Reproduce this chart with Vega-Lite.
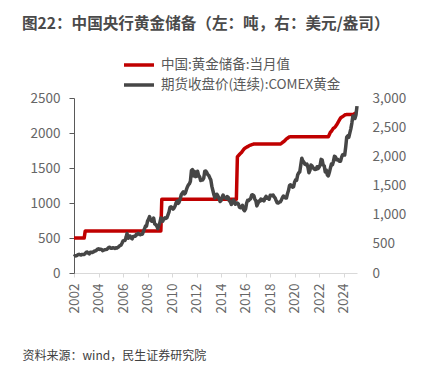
{
  "$schema": "https://vega.github.io/schema/vega-lite/v6.json",
  "width": 283,
  "height": 175,
  "autosize": {"type": "none"},
  "padding": {"left": 74, "top": 98, "right": 72, "bottom": 97},
  "background": "white",
  "config": {"view": {"stroke": null}, "font": "Noto Sans CJK SC"},
  "title": {"text": "图22：中国央行黄金储备（左：吨，右：美元/盎司）", "anchor": "start", "frame": "group", "fontSize": 15.6, "fontWeight": "bold", "color": "#4a4a4a", "dx": -52, "offset": 24},
  "datasets": {
    "reserve": [
      {"date": "2002-01-01", "tons": 500}, {"date": "2002-11-01", "tons": 500}, {"date": "2002-12-01", "tons": 600},
      {"date": "2009-02-01", "tons": 600}, {"date": "2009-03-01", "tons": 1054}, {"date": "2015-04-01", "tons": 1054},
      {"date": "2015-05-01", "tons": 1658}, {"date": "2015-06-01", "tons": 1677}, {"date": "2015-07-01", "tons": 1693},
      {"date": "2015-08-01", "tons": 1709}, {"date": "2015-09-01", "tons": 1722}, {"date": "2015-10-01", "tons": 1743},
      {"date": "2015-11-01", "tons": 1762}, {"date": "2015-12-01", "tons": 1779}, {"date": "2016-01-01", "tons": 1788},
      {"date": "2016-02-01", "tons": 1798}, {"date": "2016-03-01", "tons": 1805}, {"date": "2016-04-01", "tons": 1814},
      {"date": "2016-05-01", "tons": 1823}, {"date": "2016-06-01", "tons": 1828}, {"date": "2016-07-01", "tons": 1833},
      {"date": "2016-08-01", "tons": 1838}, {"date": "2016-09-01", "tons": 1842}, {"date": "2018-11-01", "tons": 1842},
      {"date": "2018-12-01", "tons": 1852}, {"date": "2019-01-01", "tons": 1864}, {"date": "2019-02-01", "tons": 1874},
      {"date": "2019-03-01", "tons": 1885}, {"date": "2019-04-01", "tons": 1900}, {"date": "2019-05-01", "tons": 1916},
      {"date": "2019-06-01", "tons": 1926}, {"date": "2019-07-01", "tons": 1936}, {"date": "2019-08-01", "tons": 1945},
      {"date": "2019-09-01", "tons": 1948}, {"date": "2022-10-01", "tons": 1948}, {"date": "2022-11-01", "tons": 1980},
      {"date": "2022-12-01", "tons": 2010}, {"date": "2023-01-01", "tons": 2025}, {"date": "2023-02-01", "tons": 2048},
      {"date": "2023-03-01", "tons": 2068}, {"date": "2023-04-01", "tons": 2076}, {"date": "2023-05-01", "tons": 2092},
      {"date": "2023-06-01", "tons": 2113}, {"date": "2023-07-01", "tons": 2137}, {"date": "2023-08-01", "tons": 2165},
      {"date": "2023-09-01", "tons": 2192}, {"date": "2023-10-01", "tons": 2215}, {"date": "2023-11-01", "tons": 2226},
      {"date": "2023-12-01", "tons": 2235}, {"date": "2024-01-01", "tons": 2245}, {"date": "2024-02-01", "tons": 2257},
      {"date": "2024-03-01", "tons": 2262}, {"date": "2024-04-01", "tons": 2264}, {"date": "2024-10-01", "tons": 2264},
      {"date": "2024-11-01", "tons": 2269}, {"date": "2024-12-01", "tons": 2280}, {"date": "2025-01-01", "tons": 2285},
      {"date": "2025-02-01", "tons": 2290}
    ],
    "gold": [
      {"date": "2002-01-01", "price": 282}, {"date": "2002-02-01", "price": 296}, {"date": "2002-03-01", "price": 294}, {"date": "2002-04-01", "price": 303}, {"date": "2002-05-01", "price": 314}, {"date": "2002-06-01", "price": 321}, {"date": "2002-07-01", "price": 313}, {"date": "2002-08-01", "price": 310}, {"date": "2002-09-01", "price": 319}, {"date": "2002-10-01", "price": 317}, {"date": "2002-11-01", "price": 319}, {"date": "2002-12-01", "price": 333},
      {"date": "2003-01-01", "price": 357}, {"date": "2003-02-01", "price": 359}, {"date": "2003-03-01", "price": 341}, {"date": "2003-04-01", "price": 328}, {"date": "2003-05-01", "price": 356}, {"date": "2003-06-01", "price": 356}, {"date": "2003-07-01", "price": 351}, {"date": "2003-08-01", "price": 360}, {"date": "2003-09-01", "price": 379}, {"date": "2003-10-01", "price": 379}, {"date": "2003-11-01", "price": 390}, {"date": "2003-12-01", "price": 408},
      {"date": "2004-01-01", "price": 414}, {"date": "2004-02-01", "price": 405}, {"date": "2004-03-01", "price": 407}, {"date": "2004-04-01", "price": 403}, {"date": "2004-05-01", "price": 384}, {"date": "2004-06-01", "price": 392}, {"date": "2004-07-01", "price": 398}, {"date": "2004-08-01", "price": 401}, {"date": "2004-09-01", "price": 405}, {"date": "2004-10-01", "price": 421}, {"date": "2004-11-01", "price": 439}, {"date": "2004-12-01", "price": 442},
      {"date": "2005-01-01", "price": 424}, {"date": "2005-02-01", "price": 423}, {"date": "2005-03-01", "price": 434}, {"date": "2005-04-01", "price": 429}, {"date": "2005-05-01", "price": 422}, {"date": "2005-06-01", "price": 431}, {"date": "2005-07-01", "price": 425}, {"date": "2005-08-01", "price": 438}, {"date": "2005-09-01", "price": 456}, {"date": "2005-10-01", "price": 470}, {"date": "2005-11-01", "price": 477}, {"date": "2005-12-01", "price": 510},
      {"date": "2006-01-01", "price": 550}, {"date": "2006-02-01", "price": 555}, {"date": "2006-03-01", "price": 557}, {"date": "2006-04-01", "price": 611}, {"date": "2006-05-01", "price": 677}, {"date": "2006-06-01", "price": 596}, {"date": "2006-07-01", "price": 634}, {"date": "2006-08-01", "price": 633}, {"date": "2006-09-01", "price": 598}, {"date": "2006-10-01", "price": 586}, {"date": "2006-11-01", "price": 628}, {"date": "2006-12-01", "price": 630},
      {"date": "2007-01-01", "price": 631}, {"date": "2007-02-01", "price": 665}, {"date": "2007-03-01", "price": 655}, {"date": "2007-04-01", "price": 679}, {"date": "2007-05-01", "price": 667}, {"date": "2007-06-01", "price": 656}, {"date": "2007-07-01", "price": 665}, {"date": "2007-08-01", "price": 665}, {"date": "2007-09-01", "price": 713}, {"date": "2007-10-01", "price": 755}, {"date": "2007-11-01", "price": 806}, {"date": "2007-12-01", "price": 803},
      {"date": "2008-01-01", "price": 890}, {"date": "2008-02-01", "price": 922}, {"date": "2008-03-01", "price": 968}, {"date": "2008-04-01", "price": 910}, {"date": "2008-05-01", "price": 889}, {"date": "2008-06-01", "price": 890}, {"date": "2008-07-01", "price": 940}, {"date": "2008-08-01", "price": 839}, {"date": "2008-09-01", "price": 830}, {"date": "2008-10-01", "price": 807}, {"date": "2008-11-01", "price": 761}, {"date": "2008-12-01", "price": 816},
      {"date": "2009-01-01", "price": 859}, {"date": "2009-02-01", "price": 943}, {"date": "2009-03-01", "price": 924}, {"date": "2009-04-01", "price": 890}, {"date": "2009-05-01", "price": 929}, {"date": "2009-06-01", "price": 946}, {"date": "2009-07-01", "price": 934}, {"date": "2009-08-01", "price": 949}, {"date": "2009-09-01", "price": 997}, {"date": "2009-10-01", "price": 1043}, {"date": "2009-11-01", "price": 1127}, {"date": "2009-12-01", "price": 1135},
      {"date": "2010-01-01", "price": 1118}, {"date": "2010-02-01", "price": 1095}, {"date": "2010-03-01", "price": 1113}, {"date": "2010-04-01", "price": 1149}, {"date": "2010-05-01", "price": 1205}, {"date": "2010-06-01", "price": 1233}, {"date": "2010-07-01", "price": 1193}, {"date": "2010-08-01", "price": 1216}, {"date": "2010-09-01", "price": 1271}, {"date": "2010-10-01", "price": 1342}, {"date": "2010-11-01", "price": 1370}, {"date": "2010-12-01", "price": 1391},
      {"date": "2011-01-01", "price": 1356}, {"date": "2011-02-01", "price": 1373}, {"date": "2011-03-01", "price": 1424}, {"date": "2011-04-01", "price": 1474}, {"date": "2011-05-01", "price": 1510}, {"date": "2011-06-01", "price": 1529}, {"date": "2011-07-01", "price": 1573}, {"date": "2011-08-01", "price": 1756}, {"date": "2011-09-01", "price": 1772}, {"date": "2011-10-01", "price": 1665}, {"date": "2011-11-01", "price": 1739}, {"date": "2011-12-01", "price": 1652},
      {"date": "2012-01-01", "price": 1656}, {"date": "2012-02-01", "price": 1743}, {"date": "2012-03-01", "price": 1674}, {"date": "2012-04-01", "price": 1650}, {"date": "2012-05-01", "price": 1586}, {"date": "2012-06-01", "price": 1597}, {"date": "2012-07-01", "price": 1594}, {"date": "2012-08-01", "price": 1626}, {"date": "2012-09-01", "price": 1745}, {"date": "2012-10-01", "price": 1747}, {"date": "2012-11-01", "price": 1722}, {"date": "2012-12-01", "price": 1685},
      {"date": "2013-01-01", "price": 1670}, {"date": "2013-02-01", "price": 1628}, {"date": "2013-03-01", "price": 1593}, {"date": "2013-04-01", "price": 1485}, {"date": "2013-05-01", "price": 1414}, {"date": "2013-06-01", "price": 1342}, {"date": "2013-07-01", "price": 1287}, {"date": "2013-08-01", "price": 1347}, {"date": "2013-09-01", "price": 1349}, {"date": "2013-10-01", "price": 1317}, {"date": "2013-11-01", "price": 1276}, {"date": "2013-12-01", "price": 1225},
      {"date": "2014-01-01", "price": 1244}, {"date": "2014-02-01", "price": 1300}, {"date": "2014-03-01", "price": 1336}, {"date": "2014-04-01", "price": 1299}, {"date": "2014-05-01", "price": 1288}, {"date": "2014-06-01", "price": 1279}, {"date": "2014-07-01", "price": 1311}, {"date": "2014-08-01", "price": 1296}, {"date": "2014-09-01", "price": 1239}, {"date": "2014-10-01", "price": 1223}, {"date": "2014-11-01", "price": 1176}, {"date": "2014-12-01", "price": 1201},
      {"date": "2015-01-01", "price": 1251}, {"date": "2015-02-01", "price": 1227}, {"date": "2015-03-01", "price": 1179}, {"date": "2015-04-01", "price": 1199}, {"date": "2015-05-01", "price": 1199}, {"date": "2015-06-01", "price": 1182}, {"date": "2015-07-01", "price": 1128}, {"date": "2015-08-01", "price": 1118}, {"date": "2015-09-01", "price": 1125}, {"date": "2015-10-01", "price": 1159}, {"date": "2015-11-01", "price": 1086}, {"date": "2015-12-01", "price": 1068},
      {"date": "2016-01-01", "price": 1098}, {"date": "2016-02-01", "price": 1200}, {"date": "2016-03-01", "price": 1245}, {"date": "2016-04-01", "price": 1242}, {"date": "2016-05-01", "price": 1261}, {"date": "2016-06-01", "price": 1276}, {"date": "2016-07-01", "price": 1337}, {"date": "2016-08-01", "price": 1340}, {"date": "2016-09-01", "price": 1327}, {"date": "2016-10-01", "price": 1267}, {"date": "2016-11-01", "price": 1238}, {"date": "2016-12-01", "price": 1151},
      {"date": "2017-01-01", "price": 1192}, {"date": "2017-02-01", "price": 1234}, {"date": "2017-03-01", "price": 1231}, {"date": "2017-04-01", "price": 1267}, {"date": "2017-05-01", "price": 1246}, {"date": "2017-06-01", "price": 1260}, {"date": "2017-07-01", "price": 1237}, {"date": "2017-08-01", "price": 1283}, {"date": "2017-09-01", "price": 1314}, {"date": "2017-10-01", "price": 1280}, {"date": "2017-11-01", "price": 1282}, {"date": "2017-12-01", "price": 1265},
      {"date": "2018-01-01", "price": 1331}, {"date": "2018-02-01", "price": 1331}, {"date": "2018-03-01", "price": 1325}, {"date": "2018-04-01", "price": 1335}, {"date": "2018-05-01", "price": 1304}, {"date": "2018-06-01", "price": 1282}, {"date": "2018-07-01", "price": 1238}, {"date": "2018-08-01", "price": 1202}, {"date": "2018-09-01", "price": 1198}, {"date": "2018-10-01", "price": 1215}, {"date": "2018-11-01", "price": 1221}, {"date": "2018-12-01", "price": 1250},
      {"date": "2019-01-01", "price": 1292}, {"date": "2019-02-01", "price": 1320}, {"date": "2019-03-01", "price": 1301}, {"date": "2019-04-01", "price": 1286}, {"date": "2019-05-01", "price": 1284}, {"date": "2019-06-01", "price": 1359}, {"date": "2019-07-01", "price": 1413}, {"date": "2019-08-01", "price": 1500}, {"date": "2019-09-01", "price": 1511}, {"date": "2019-10-01", "price": 1495}, {"date": "2019-11-01", "price": 1470}, {"date": "2019-12-01", "price": 1479},
      {"date": "2020-01-01", "price": 1561}, {"date": "2020-02-01", "price": 1597}, {"date": "2020-03-01", "price": 1592}, {"date": "2020-04-01", "price": 1683}, {"date": "2020-05-01", "price": 1716}, {"date": "2020-06-01", "price": 1732}, {"date": "2020-07-01", "price": 1847}, {"date": "2020-08-01", "price": 1969}, {"date": "2020-09-01", "price": 1922}, {"date": "2020-10-01", "price": 1900}, {"date": "2020-11-01", "price": 1866}, {"date": "2020-12-01", "price": 1858},
      {"date": "2021-01-01", "price": 1868}, {"date": "2021-02-01", "price": 1808}, {"date": "2021-03-01", "price": 1718}, {"date": "2021-04-01", "price": 1760}, {"date": "2021-05-01", "price": 1850}, {"date": "2021-06-01", "price": 1835}, {"date": "2021-07-01", "price": 1808}, {"date": "2021-08-01", "price": 1785}, {"date": "2021-09-01", "price": 1775}, {"date": "2021-10-01", "price": 1777}, {"date": "2021-11-01", "price": 1822}, {"date": "2021-12-01", "price": 1790},
      {"date": "2022-01-01", "price": 1816}, {"date": "2022-02-01", "price": 1856}, {"date": "2022-03-01", "price": 1948}, {"date": "2022-04-01", "price": 1937}, {"date": "2022-05-01", "price": 1849}, {"date": "2022-06-01", "price": 1837}, {"date": "2022-07-01", "price": 1733}, {"date": "2022-08-01", "price": 1764}, {"date": "2022-09-01", "price": 1681}, {"date": "2022-10-01", "price": 1665}, {"date": "2022-11-01", "price": 1725}, {"date": "2022-12-01", "price": 1798},
      {"date": "2023-01-01", "price": 1868}, {"date": "2023-02-01", "price": 1855}, {"date": "2023-03-01", "price": 1913}, {"date": "2023-04-01", "price": 2000}, {"date": "2023-05-01", "price": 1992}, {"date": "2023-06-01", "price": 1943}, {"date": "2023-07-01", "price": 1951}, {"date": "2023-08-01", "price": 1928}, {"date": "2023-09-01", "price": 1916}, {"date": "2023-10-01", "price": 1917}, {"date": "2023-11-01", "price": 1986}, {"date": "2023-12-01", "price": 2027},
      {"date": "2024-01-01", "price": 2034}, {"date": "2024-02-01", "price": 2023}, {"date": "2024-03-01", "price": 2158}, {"date": "2024-04-01", "price": 2331}, {"date": "2024-05-01", "price": 2351}, {"date": "2024-06-01", "price": 2326}, {"date": "2024-07-01", "price": 2399}, {"date": "2024-08-01", "price": 2471}, {"date": "2024-09-01", "price": 2570}, {"date": "2024-10-01", "price": 2690}, {"date": "2024-11-01", "price": 2651}, {"date": "2024-12-01", "price": 2648},
      {"date": "2025-01-01", "price": 2710}, {"date": "2025-02-01", "price": 2860}
    ]
  },
  "encoding": {
    "x": {
      "field": "date",
      "type": "temporal",
      "scale": {"type": "utc", "domain": [{"year": 2002, "month": 1, "date": 1, "utc": true}, {"year": 2025, "month": 2, "date": 1, "utc": true}]},
      "axis": {
        "values": [
          {"year": 2002, "month": 1, "date": 1, "utc": true}, {"year": 2004, "month": 1, "date": 1, "utc": true},
          {"year": 2006, "month": 1, "date": 1, "utc": true}, {"year": 2008, "month": 1, "date": 1, "utc": true},
          {"year": 2010, "month": 1, "date": 1, "utc": true}, {"year": 2012, "month": 1, "date": 1, "utc": true},
          {"year": 2014, "month": 1, "date": 1, "utc": true}, {"year": 2016, "month": 1, "date": 1, "utc": true},
          {"year": 2018, "month": 1, "date": 1, "utc": true}, {"year": 2020, "month": 1, "date": 1, "utc": true},
          {"year": 2022, "month": 1, "date": 1, "utc": true}, {"year": 2024, "month": 1, "date": 1, "utc": true}
        ],
        "format": "%Y",
        "labelAngle": 270,
        "labelPadding": 6,
        "labelFontSize": 13.5,
        "labelColor": "#666666",
        "labelFont": "Noto Sans CJK SC",
        "tickSize": 4,
        "tickColor": "#d9d9d9",
        "domainColor": "#d9d9d9",
        "grid": false,
        "title": "资料来源：wind，民生证券研究院",
        "titleFont": "Noto Sans CJK SC",
        "titleFontSize": 12,
        "titleFontWeight": "normal",
        "titleColor": "#404040",
        "titleAngle": 0,
        "titleAlign": "left",
        "titleBaseline": "alphabetic",
        "titleX": -52,
        "titleY": 86
      }
    }
  },
  "layer": [
    {
      "data": {"name": "reserve"},
      "mark": {"type": "line", "strokeWidth": 3.5, "strokeJoin": "round"},
      "encoding": {
        "y": {
          "field": "tons",
          "type": "quantitative",
          "scale": {"domain": [0, 2500], "nice": false},
          "axis": {"orient": "left", "values": [0, 500, 1000, 1500, 2000, 2500], "format": "d", "title": null, "grid": false, "domainColor": "#595959", "tickColor": "#595959", "tickSize": 5, "labelPadding": 9, "labelFontSize": 13.5, "labelColor": "#666666", "labelFont": "Noto Sans CJK SC"}
        },
        "color": {
          "datum": "中国:黄金储备:当月值",
          "scale": {"domain": ["中国:黄金储备:当月值", "期货收盘价(连续):COMEX黄金"], "range": ["#C00000", "#464646"]},
          "legend": {"orient": "none", "legendX": 57, "legendY": -41, "title": null, "symbolType": "M-2.5,0H2.5", "symbolSize": 144, "symbolStrokeWidth": 3.5, "labelFontSize": 13.5, "labelColor": "#595959", "labelFont": "Noto Sans CJK SC", "labelOffset": 14, "labelLimit": 400, "rowPadding": 5, "padding": 0}
        }
      }
    },
    {
      "data": {"name": "gold"},
      "mark": {"type": "line", "strokeWidth": 3.5, "strokeJoin": "round"},
      "encoding": {
        "y": {
          "field": "price",
          "type": "quantitative",
          "scale": {"domain": [0, 3000], "nice": false},
          "axis": {"orient": "right", "values": [0, 500, 1000, 1500, 2000, 2500, 3000], "format": ",.0f", "title": null, "grid": false, "domain": false, "ticks": false, "labelPadding": 15, "labelFontSize": 13.5, "labelColor": "#666666", "labelFont": "Noto Sans CJK SC"}
        },
        "color": {"datum": "期货收盘价(连续):COMEX黄金"}
      }
    }
  ],
  "resolve": {"scale": {"y": "independent"}}
}
